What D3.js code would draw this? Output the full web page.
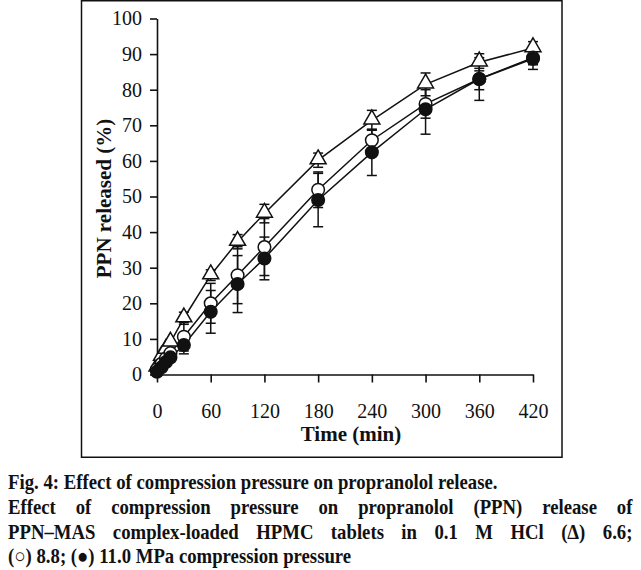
<!DOCTYPE html>
<html>
<head>
<meta charset="utf-8">
<script src="https://cdn.jsdelivr.net/npm/d3@7"></script>
<style>
  body { margin: 0; background: #fff; }
  svg { display: block; }
</style>
</head>
<body>
<div class="chart"></div>
<script>
// release data
var times = [0, 5, 10, 15, 30, 60, 90, 120, 180, 240, 300, 360, 420];
var tri66 = [2, 5, 7, 9, 15.8, 27.9, 37.3, 45.2, 60.2, 71.4, 81.5, 87.7, 91.7];
var open88 = [1.5, 3, 4.5, 6, 10.6, 20, 27.9, 35.8, 51.9, 65.8, 76, 83, 89];
var fill110 = [0.8, 2, 3.5, 4.8, 8.3, 17.6, 25.4, 32.6, 49, 62.4, 74.5, 83, 88.7];
var triSd = [0.5, 0.8, 1, 1, 1.7, 1.5, 2, 2.6, 2, 2.8, 3.2, 2.4, 1.8];
var openSd = [0.5, 0.8, 1, 1, 4, 5.6, 8, 8, 5, 3, 4, 3, 2];
var fillSd = [0.5, 0.8, 1, 1, 2.5, 6, 8, 6, 7.5, 6.5, 7, 6, 3];
var xTicks = [0, 60, 120, 180, 240, 300, 360, 420];
var yTicks = [0, 10, 20, 30, 40, 50, 60, 70, 80, 90, 100];
var captionLines = [
  "Fig. 4: Effect of compression pressure on propranolol release.",
  "Effect of compression pressure on propranolol (PPN) release of",
  "PPN\u2013MAS complex-loaded HPMC tablets in 0.1 M HCl (\u0394) 6.6;",
  "(\u25CB) 8.8; (\u25CF) 11.0 MPa compression pressure"
];

var svgWidth = 641;
var svgHeight = 570;

var svg = d3.select(".chart")
  .append("svg")
  .attr("width", svgWidth)
  .attr("height", svgHeight);

// outer frame round the figure
svg.append("rect")
  .attr("x", 81.5)
  .attr("y", 0.75)
  .attr("width", 480.5)
  .attr("height", 456.5)
  .attr("fill", "none")
  .attr("stroke", "#111")
  .attr("stroke-width", 1.5);

var x = d3.scaleLinear().domain([0, 420]).range([157, 533]);
var y = d3.scaleLinear().domain([0, 100]).range([374.5, 18.5]);

var serif = "'Liberation Serif', 'Times New Roman', serif";

// axes
var xAxis = svg.append("g")
  .attr("transform", "translate(0," + y(0) + ")")
  .call(d3.axisBottom(x).tickValues(xTicks).tickSize(8).tickSizeOuter(0).tickPadding(21));

var yAxis = svg.append("g")
  .attr("transform", "translate(" + x(0) + ",0)")
  .call(d3.axisLeft(y).tickValues(yTicks).tickSize(7).tickSizeOuter(0).tickPadding(8));

[xAxis, yAxis].forEach(function(g) {
  g.selectAll("path, line").attr("stroke", "#111").attr("stroke-width", 1.6);
  g.selectAll("text")
    .attr("fill", "#111")
    .style("font-family", serif)
    .style("font-size", "20px");
});

// axis titles
svg.append("text")
  .attr("transform", "translate(111," + (y(50) + 2) + ") rotate(-90)")
  .attr("text-anchor", "middle")
  .style("font-family", serif)
  .style("font-size", "21px")
  .style("font-weight", "bold")
  .attr("fill", "#111")
  .text("PPN released (%)");

svg.append("text")
  .attr("x", 351)
  .attr("y", 441)
  .attr("text-anchor", "middle")
  .style("font-family", serif)
  .style("font-size", "21px")
  .style("font-weight", "bold")
  .attr("fill", "#111")
  .text("Time (min)");

var series = [
  { name: "6.6", vals: tri66, sd: triSd, shape: "tri" },
  { name: "8.8", vals: open88, sd: openSd, shape: "open" },
  { name: "11.0", vals: fill110, sd: fillSd, shape: "fill" }
];

var line = d3.line()
  .x(function(d) { return x(d.t); })
  .y(function(d) { return y(d.v); });

series.forEach(function(s) {
  s.pts = times.map(function(t, i) { return { t: t, v: s.vals[i], sd: s.sd[i] }; });
});

// lines first
series.forEach(function(s) {
  svg.append("path")
    .datum(s.pts)
    .attr("d", line)
    .attr("fill", "none")
    .attr("stroke", "#111")
    .attr("stroke-width", 1.5);
});

// error bars
series.forEach(function(s) {
  var eb = svg.append("g").attr("stroke", "#111").attr("stroke-width", 1.5);
  var withBars = s.pts.filter(function(d) { return d.t >= 30; });
  eb.selectAll("line.bar")
    .data(withBars)
    .enter()
    .append("line")
    .attr("x1", function(d) { return x(d.t); })
    .attr("x2", function(d) { return x(d.t); })
    .attr("y1", function(d) { return y(d.v + d.sd); })
    .attr("y2", function(d) { return y(d.v - d.sd); });
  [1, -1].forEach(function(sign) {
    eb.selectAll("line.cap" + sign)
      .data(withBars)
      .enter()
      .append("line")
      .attr("x1", function(d) { return x(d.t) - 5; })
      .attr("x2", function(d) { return x(d.t) + 5; })
      .attr("y1", function(d) { return y(d.v + sign * d.sd); })
      .attr("y2", function(d) { return y(d.v + sign * d.sd); });
  });
});

// markers
var triSym = d3.symbol().type(d3.symbolTriangle).size(110);
series.forEach(function(s) {
  var g = svg.append("g");
  if (s.shape === "tri") {
    g.selectAll("path")
      .data(s.pts)
      .enter()
      .append("path")
      .attr("d", triSym)
      .attr("transform", function(d) { return "translate(" + x(d.t) + "," + (y(d.v) - 1) + ")"; })
      .attr("fill", "#fff")
      .attr("stroke", "#111")
      .attr("stroke-width", 1.5);
  } else {
    g.selectAll("circle")
      .data(s.pts)
      .enter()
      .append("circle")
      .attr("cx", function(d) { return x(d.t); })
      .attr("cy", function(d) { return y(d.v); })
      .attr("r", 6.3)
      .attr("fill", s.shape === "fill" ? "#111" : "#fff")
      .attr("stroke", "#111")
      .attr("stroke-width", 1.5);
  }
});

// caption: 20.5px text squeezed to the original line width,
// lines 2 and 3 justified to the full width with word spacing
var capBase = [489, 514, 539, 563];
var caption = svg.selectAll("text.caption")
  .data(captionLines)
  .enter()
  .append("text")
  .attr("class", "caption")
  .attr("x", 0)
  .attr("y", 0)
  .style("font-family", serif)
  .style("font-size", "20.5px")
  .style("font-weight", "bold")
  .attr("fill", "#111")
  .text(function(d) { return d; });

var widths = caption.nodes().map(function(n) { return n.getComputedTextLength(); });
var sx = 490 / widths[0];

caption.each(function(d, i) {
  if (i === 1 || i === 2) {
    var gaps = d.split(" ").length - 1;
    var extra = (625 / sx - widths[i]) / gaps;
    d3.select(this).style("word-spacing", extra + "px");
  }
  d3.select(this).attr("transform", "translate(8," + capBase[i] + ") scale(" + sx + ",1)");
});
</script>
</body>
</html>
